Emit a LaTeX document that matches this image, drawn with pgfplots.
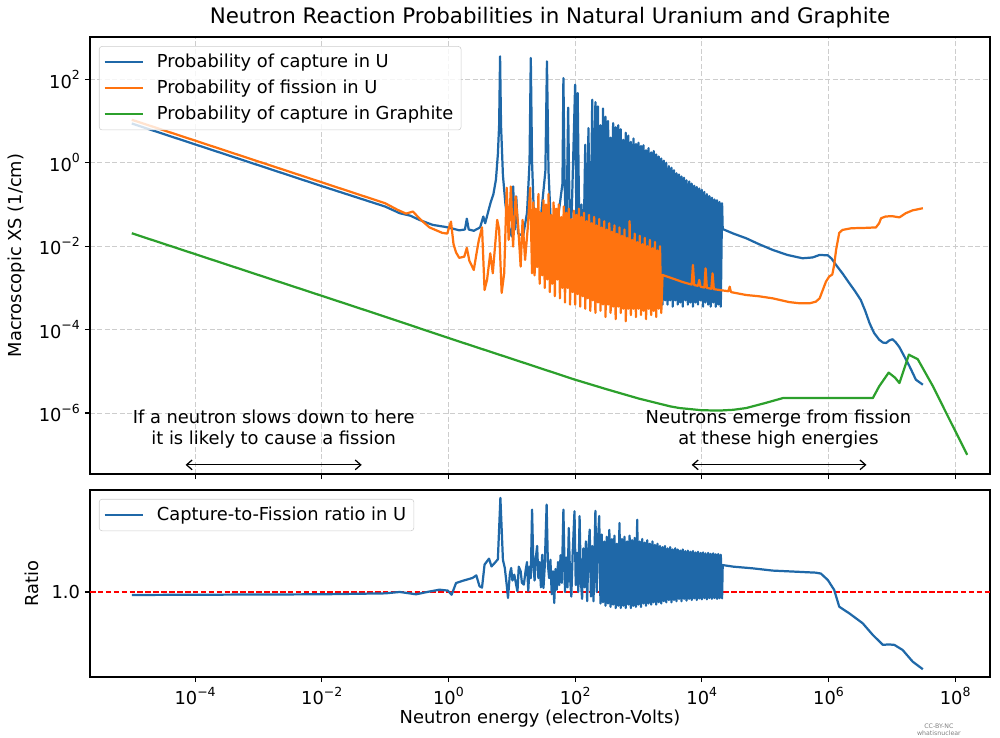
\documentclass[border=0pt]{standalone}
\usepackage{fontspec}
\setmainfont{DejaVu Sans}
\usepackage{pgfplots}
\pgfplotsset{compat=1.18}
\usetikzlibrary{arrows.meta}

\definecolor{mplblue}{RGB}{31,104,168}
\definecolor{mplorange}{RGB}{255,115,15}
\definecolor{mplgreen}{RGB}{44,160,44}
\definecolor{gridgray}{RGB}{205,205,205}
\definecolor{legedge}{RGB}{204,204,204}

\newcommand{\bsz}{\fontsize{12.85}{14.6}\selectfont}
\newcommand{\tsz}{\fontsize{15.4}{18}\selectfont}
\newcommand{\pw}[1]{10\raisebox{0.48em}{\fontsize{9}{9}\selectfont #1}}

\begin{document}
\begin{tikzpicture}
\path[use as bounding box] (0,0) rectangle (720pt,530.64pt);

\node[anchor=base] at (396pt,513.4pt) {\tsz Neutron Reaction Probabilities in Natural Uranium and Graphite};

% upper panel: macroscopic cross sections
\begin{axis}[
  at={(64.8pt,189.36pt)}, anchor=south west,
  scale only axis, width=648pt, height=314.64pt,
  xmode=log, ymode=log,
  xmin=2.19e-6, xmax=3.55e8, ymin=3.47e-8, ymax=1.03e3,
  xtick={1e-4,1e-2,1,1e2,1e4,1e6,1e8}, xticklabels={},
  ytick={1e-6,1e-4,1e-2,1,1e2},
  yticklabels={\pw{−6},\pw{−4},\pw{−2},\pw{0},\pw{2}},
  xminorticks=false, yminorticks=false,
  tick align=outside, tick pos=left,
  major tick length=3.75pt,
  tick style={black, line width=0.86pt},
  axis line style={line width=0.86pt},
  ticklabel style={font=\bsz},
  label style={font=\bsz},
  grid=major, major grid style={gridgray, line width=0.8pt, dash pattern=on 3.6pt off 1.8pt},
  ylabel={Macroscopic XS (1/cm)},
  ylabel style={at={(axis description cs:-0.0811,0.5)}, anchor=center},
  legend cell align=left,
  legend image code/.code={\draw[#1] (0pt,0pt) -- (27.4pt,0pt); \path (34.4pt,0pt);},
  legend style={at={(axis description cs:0.01,0.979)}, anchor=north west,
    font=\bsz, draw=legedge, fill=white, fill opacity=0.8, text opacity=1,
    draw opacity=1, rounded corners=2pt, inner xsep=3pt, inner ysep=2pt,
    row sep=0pt, nodes={inner sep=2.5pt, minimum height=18.7pt}},
]
\addplot[mplblue, line width=1.6pt, line join=round] coordinates {
(1e-5,8.71) (1e-4,2.75) (1e-3,0.871) (1e-2,0.275) (0.1,8.91e-2) (0.17,6.17e-2)
(0.251,5.37e-2) (0.347,4.27e-2) (0.562,3.24e-2) (0.912,2.88e-2) (1.175,2.63e-2)
(1.479,2.40e-2) (1.82,2.51e-2) (1.95,4.57e-2) (2.089,2.51e-2) (2.512,2.34e-2)
(3.162,2.82e-2) (3.548,5.13e-2) (3.802,3.55e-2) (4.365,7.94e-2) (4.677,0.117)
(5.129,0.178) (5.623,0.398) (6.026,1.585) (6.31,7.94) (6.53,355) (6.761,7.94)
(7.244,0.5) (7.943,0.1) (8.913,2.95e-2) (10,1.7e-2) (10.5,0.27) (11.2,2.5e-2)
(11.75,0.155) (12.6,2e-2) (15.1,1.78e-2) (17.4,6.3e-2) (19.05,1.0) (19.95,324)
(20.9,1.0) (22.4,5e-2) (25.1,1.58e-2) (28.8,5e-2) (33.9,0.63) (35.9,269) (38.0,0.63)
(41.7,2.5e-2) (47.9,1.26e-2) (55.0,6.3e-2) (63.1,0.316) (65.3,107) (68.4,0.316)
(72.4,1e-2) (77.6,20.9) (83.2,7.9e-3) (89.1,0.1) (100,74) (104.7,3.2e-2) (109.6,46.8)
(117.5,6.3e-3) (125.9,0.1) (134.9,5e-3) (144.5,2.69) (154.9,4e-3) (162.2,6.76)
(173.8,3.2e-3) (186.2,32.4) (195,2.5e-3) (208.9,28.2)
(218.8,1.585e-3) (229.1,22.39) (239.9,2.512e-3) (251.2,7.943) (263.0,1.259e-3)
(275.4,19.95) (288.4,1.995e-3) (302.0,12.59) (316.2,1e-3) (331.1,10)
(346.7,1.585e-3) (363.1,3.981) (380.2,1e-3) (398.1,8.913) (416.9,1.259e-3)
(436.5,7.079) (457.1,7.943e-4) (478.6,7.943) (501.2,1.259e-3) (524.8,6.31)
(549.5,7.943e-4) (575.4,3.548) (602.6,1e-3) (631.0,5.248) (660.7,6.31e-4)
(691.8,4.467) (724.4,1e-3) (758.6,3.162) (794.3,6.31e-4) (831.8,3.802)
(871.0,7.943e-4) (912.0,2.818) (955.0,5.012e-4) (1000,3.02) (1047,7.943e-4)
(1096,2.512) (1148,5.012e-4) (1202,2.63) (1259,6.31e-4) (1318,1.995)
(1380,5.012e-4) (1445,2.239) (1514,6.31e-4) (1585,1.778) (1660,4.467e-4)
(1738,1.905) (1820,6.31e-4) (1905,1.585) (1995,3.981e-4) (2089,1.413)
(2188,5.012e-4) (2291,1.259) (2399,3.981e-4) (2512,1.122) (2630,5.012e-4)
(2754,1.0) (2884,3.981e-4) (3020,0.832) (3162,5.012e-4) (3311,0.759)
(3467,3.548e-4) (3631,0.661) (3802,5.012e-4) (3981,0.562) (4169,3.981e-4)
(4365,0.525) (4571,4.467e-4) (4786,0.468) (5012,3.548e-4) (5248,0.437)
(5495,5.012e-4) (5754,0.380) (6026,3.981e-4) (6310,0.355) (6607,4.467e-4)
(6918,0.316) (7244,3.548e-4) (7586,0.282) (7943,4.467e-4) (8318,0.263)
(8710,3.981e-4) (9120,0.240) (9550,5.012e-4) (1.0e4,0.224) (1.047e4,3.548e-4)
(1.096e4,0.2) (1.148e4,4.467e-4) (1.202e4,0.178) (1.259e4,3.981e-4) (1.318e4,0.158)
(1.380e4,3.548e-4) (1.445e4,0.145) (1.514e4,4.467e-4) (1.585e4,0.132)
(1.660e4,3.548e-4) (1.738e4,0.126) (1.820e4,3.981e-4) (1.905e4,0.115)
(1.995e4,3.548e-4) (2.089e4,0.107)
(2.138e4,2.57e-2) (3.162e4,2.0e-2) (5.012e4,1.549e-2) (7.943e4,1.122e-2)
(1.318e5,8.13e-3) (2.239e5,6.17e-3) (3.89e5,5.13e-3) (5.623e5,5.37e-3)
(7.244e5,6.17e-3) (9.772e5,6.03e-3) (1.122e6,5.01e-3) (1.318e6,3.55e-3)
(1.66e6,2.24e-3) (2.138e6,1.29e-3) (2.63e6,8.32e-4) (3.236e6,5.13e-4)
(3.802e6,2.82e-4) (4.467e6,1.41e-4) (5.248e6,8.32e-5) (6.31e6,5.75e-5)
(7.244e6,4.9e-5) (8.128e6,4.79e-5) (9.12e6,5.5e-5) (1.023e7,5.89e-5)
(1.148e7,5.01e-5) (1.318e7,3.8e-5) (1.585e7,2.24e-5) (1.905e7,1.32e-5)
(2.399e7,6.31e-6) (3.09e7,4.79e-6)
};
\addlegendentry{Probability of capture in U}
\addplot[mplorange, line width=1.6pt, line join=round] coordinates {
(1e-5,10.7) (1e-4,3.39) (1e-3,1.07) (1e-2,0.339) (0.1,0.107) (0.158,7.41e-2)
(0.214,6.03e-2) (0.275,6.76e-2) (0.355,4.47e-2) (0.501,2.82e-2) (0.794,2.09e-2)
(0.955,2.0e-2) (1.096,3.89e-2) (1.202,1.12e-2) (1.318,7.08e-3) (1.479,5.25e-3)
(1.778,5.62e-3) (1.95,9.12e-3) (2.138,4.47e-3) (2.512,2.69e-3) (2.754,6.31e-3)
(3.02,1.41e-2) (3.388,2.82e-2) (3.715,8.91e-4) (4.074,1.585e-3) (4.571,6.76e-3)
(5.012,2.24e-3) (5.888,4.27e-2) (6.31,2.51e-2) (6.918,7.59e-4) (7.586,2.24e-3)
(8.318,0.251) (8.913,1.41e-2) (9.66,0.269) (10.47,9.77e-3) (11.48,0.155)
(12.59,3.16e-2) (13.8,3.24e-3) (14.79,4.27e-2) (16.22,4.68e-3) (17.78,2.51e-2)
(19.5,0.251) (20.89,2.24e-3)
(21.88,0.112) (22.91,1.995e-3) (23.99,7.94e-2) (25.12,3.162e-3) (26.30,0.178)
(27.54,1.259e-3) (28.84,6.31e-2) (30.20,1.995e-3) (31.62,0.126) (33.11,1e-3)
(34.67,0.1) (36.31,1.585e-3) (38.02,0.178) (39.81,7.94e-4) (41.69,5.62e-2)
(43.65,1.259e-3) (45.71,0.112) (47.86,6.31e-4) (50.12,7.94e-2) (52.48,1.585e-3)
(54.95,0.1) (57.54,5.62e-4) (60.26,5.01e-2) (63.10,1e-3) (66.07,8.91e-2)
(69.18,4.47e-4) (72.44,6.31e-2) (75.86,1e-3) (79.43,7.94e-2) (83.18,3.98e-4)
(87.10,4.47e-2) (91.20,7.94e-4) (95.50,7.08e-2) (100,3.98e-4) (104.7,5.62e-2)
(109.6,7.08e-4) (114.8,7.94e-2) (120.2,3.55e-4) (125.9,5.01e-2) (131.8,6.31e-4)
(138.0,6.31e-2) (144.5,3.16e-4) (151.4,3.98e-2) (158.5,5.62e-4) (166.0,5.62e-2)
(173.8,2.82e-4) (182.0,3.55e-2) (190.5,5.01e-4) (199.5,5.01e-2) (208.9,2.51e-4)
(218.8,3.16e-2) (229.1,4.47e-4) (239.9,4.47e-2) (251.2,2.82e-4) (263.0,2.82e-2)
(275.4,3.98e-4) (288.4,3.98e-2) (302.0,2.0e-4) (316.2,2.51e-2) (331.1,3.98e-4)
(346.7,3.55e-2) (363.1,2.51e-4) (380.2,2.24e-2) (398.1,3.55e-4) (416.9,3.16e-2)
(436.5,1.78e-4) (457.1,2.0e-2) (478.6,3.55e-4) (501.2,2.82e-2) (524.8,2.51e-4)
(549.5,1.78e-2) (575.4,3.16e-4) (602.6,2.51e-2) (631.0,1.585e-4) (660.7,1.585e-2)
(691.8,3.16e-4) (724.4,3.98e-2) (758.6,2.24e-4) (794.3,1.41e-2) (831.8,3.16e-4)
(871.0,2.0e-2) (912.0,2.0e-4) (955.0,1.26e-2) (1000,3.16e-4) (1047,1.78e-2)
(1096,2.24e-4) (1148,1.12e-2) (1202,2.82e-4) (1259,1.585e-2) (1318,1.78e-4)
(1380,1e-2) (1445,3.16e-4) (1514,1.41e-2) (1585,2.24e-4) (1660,8.91e-3)
(1738,2.82e-4) (1820,1.26e-2) (1905,2.0e-4) (1995,7.94e-3) (2089,3.16e-4)
(2188,1e-2) (2291,2.51e-4)
(2399,2.04e-3) (3548,1.66e-3) (5012,1.38e-3) (6918,1.2e-3) (7244,3.55e-3)
(7586,1.17e-3) (8710,1.12e-3) (9120,1.55e-3) (9550,1.07e-3) (1.096e4,1.02e-3)
(1.148e4,2.95e-3) (1.202e4,1e-3) (1.413e4,9.55e-4) (1.479e4,2.24e-3)
(1.549e4,9.33e-4) (1.905e4,8.91e-4) (2.63e4,8.32e-4) (2.754e4,1.07e-3)
(2.884e4,7.94e-4) (5.012e4,6.76e-4) (7.943e4,6.31e-4) (1.318e5,5.62e-4)
(2.399e5,4.57e-4) (3.548e5,4.27e-4) (5.012e5,4.27e-4) (6.31e5,4.68e-4)
(7.244e5,5.62e-4) (8.128e5,8.91e-4) (9.12e5,1.41e-3) (1.023e6,1.86e-3)
(1.148e6,2.09e-3) (1.23e6,3.55e-3) (1.318e6,8.13e-3) (1.479e6,2.09e-2)
(1.66e6,2.45e-2) (2.291e6,2.69e-2) (3.981e6,2.75e-2) (5.623e6,2.82e-2)
(6.31e6,3.55e-2) (6.761e6,4.68e-2) (7.943e6,5.13e-2) (1e7,5.25e-2)
(1.318e7,4.9e-2) (1.66e7,6.17e-2) (2.138e7,7.24e-2) (2.512e7,7.59e-2) (3.09e7,8.13e-2)
};
\addlegendentry{Probability of fission in U}
\addplot[mplgreen, line width=1.6pt, line join=round] coordinates {
(1e-5,2.04e-2) (1e-4,6.46e-3) (1e-3,2.04e-3) (1e-2,6.46e-4) (0.1,2.04e-4)
(1,6.31e-5) (10,2.0e-5) (100,6.31e-6) (316,3.72e-6) (1e3,2.24e-6) (3.162e3,1.45e-6)
(4.467e3,1.32e-6) (1e4,1.17e-6) (1.905e4,1.15e-6) (3.162e4,1.2e-6) (5.012e4,1.32e-6)
(1e5,1.74e-6) (1.905e5,2.29e-6) (3.162e5,2.29e-6) (1e6,2.29e-6) (5.012e6,2.29e-6)
(6.31e6,4.37e-6) (8.913e6,9.33e-6) (1.122e7,7.08e-6) (1.318e7,5.25e-6)
(1.862e7,2.51e-5) (2.57e7,1.95e-5) (4.467e7,4.37e-6) (7.244e7,1e-6) (1.549e8,1e-7)
};
\addlegendentry{Probability of capture in Graphite}

\node[align=center, font=\bsz] at (axis cs:1.74e-3,4.17e-7)
  {If a neutron slows down to here\\it is likely to cause a fission};
\node[align=center, font=\bsz] at (axis cs:1.62e5,4.17e-7)
  {Neutrons emerge from fission\\at these high energies};
\draw[{Straight Barb[length=4pt,width=7pt]}-{Straight Barb[length=4pt,width=7pt]}, line width=0.9pt]
  (axis cs:7.08e-5,5.75e-8) -- (axis cs:4.27e-2,5.75e-8);
\draw[{Straight Barb[length=4pt,width=7pt]}-{Straight Barb[length=4pt,width=7pt]}, line width=0.9pt]
  (axis cs:6.92e3,5.75e-8) -- (axis cs:3.98e6,5.75e-8);
\end{axis}

% lower panel: capture-to-fission ratio
\begin{axis}[
  at={(64.8pt,43.2pt)}, anchor=south west,
  scale only axis, width=648pt, height=134.64pt,
  xmode=log, ymode=log,
  xmin=2.19e-6, xmax=3.55e8, ymin=2.01e-4, ymax=2.72e4,
  xtick={1e-4,1e-2,1,1e2,1e4,1e6,1e8},
  xticklabels={\pw{−4},\pw{−2},\pw{0},\pw{2},\pw{4},\pw{6},\pw{8}},
  ytick={1}, yticklabels={1.0},
  xminorticks=false, yminorticks=false,
  tick align=outside, tick pos=left,
  major tick length=3.75pt,
  tick style={black, line width=0.86pt},
  axis line style={line width=0.86pt},
  ticklabel style={font=\bsz},
  label style={font=\bsz},
  xlabel={Neutron energy (electron-Volts)},
  xlabel style={at={(axis description cs:0.5,-0.2246)}, anchor=center},
  ylabel={Ratio},
  ylabel style={at={(axis description cs:-0.0644,0.5)}, anchor=center},
  legend cell align=left,
  legend image code/.code={\draw[#1] (0pt,0pt) -- (27.4pt,0pt); \path (34.4pt,0pt);},
  legend style={at={(axis description cs:0.01,0.952)}, anchor=north west,
    font=\bsz, draw=legedge, fill=white, fill opacity=0.8, text opacity=1,
    draw opacity=1, rounded corners=2pt, inner xsep=3pt, inner ysep=2pt,
    row sep=0pt, nodes={inner sep=2.5pt, minimum height=18.7pt}},
]
\addplot[red, line width=1.07pt, dash pattern=on 4pt off 1.7pt, forget plot]
  coordinates {(2.19e-6,1) (3.55e8,1)};
\addplot[mplblue, line width=1.6pt, line join=round] coordinates {
(1e-5,0.741) (1e-4,0.759) (1e-2,0.794) (0.1,0.871) (0.17,1.0) (0.309,0.794)
(0.501,1.047) (0.724,1.259) (0.977,1.148) (1.122,0.759) (1.318,2.455) (1.698,3.09)
(2.399,4.074) (2.754,5.248) (3.09,1.778) (3.388,1.549) (3.715,15.5) (4.365,28.2)
(4.786,12.9) (5.37,18.2) (6.026,26.3) (6.607,1.23e4) (7.244,25.1) (7.762,11.0)
(8.318,2.0) (8.71,0.55) (9.333,6.31) (9.772,11.0) (10.23,3.16) (10.96,5.62)
(11.75,2.0) (12.3,1.07) (12.88,12.6) (13.8,7.94) (14.45,2.51) (15.49,2.09)
(16.6,9.33) (17.38,20) (18.2,1.1) (19.05,12.6) (19.95,3.98) (20.89,3.8e3)
(21.88,15.8) (22.91,3.16) (23.99,31.6) (25.12,100) (26.3,3.98) (27.54,20)
(28.84,1.585) (30.2,41.7) (31.62,1.48) (33.11,12.6) (35.48,6310) (37.15,15.8)
(38.9,3.98) (40.74,25.1) (42.66,0.794) (44.67,7.94) (46.77,0.331) (48.98,10)
(51.29,1.26) (53.7,20) (56.23,2.0) (58.88,39.8) (61.66,2.51) (65.3,3800)
(69.18,1.0) (72.44,31.6) (75.86,1.585) (79.43,603) (83.18,3.98) (87.1,0.631)
(91.2,39.8) (97.7,3240) (102.3,2.0) (107.2,50.1) (112.2,1.0) (117.5,2000)
(123,3.16) (128.8,0.501) (134.9,79.4) (141.3,1.585) (147.9,158) (154.9,0.398)
(162.2,63.1) (169.8,513) (177.8,0.631) (186.2,100) (195,0.398) (208.9,3390)
(218.8,1.0) (229.1,158) (239.9,2000)
(251.2,0.316) (263.0,316) (275.4,0.355) (288.4,158) (302.0,0.251) (316.2,251)
(331.1,0.316) (346.7,501) (363.1,0.224) (380.2,200) (398.1,0.282) (416.9,282)
(436.5,0.2) (457.1,126) (478.6,0.251) (501.2,1000) (524.8,0.2) (549.5,200)
(575.4,0.251) (602.6,251) (631.0,0.2) (660.7,158) (691.8,0.282) (724.4,282)
(758.6,0.2) (794.3,178) (831.8,0.251) (871.0,224) (912.0,0.224) (955.0,1380)
(1000,0.282) (1047,158) (1096,0.224) (1148,200) (1202,0.316) (1259,141)
(1318,0.251) (1380,178) (1445,0.316) (1514,126) (1585,0.282) (1660,158)
(1738,0.355) (1820,112) (1905,0.282) (1995,126) (2089,0.355) (2188,100)
(2291,0.316) (2399,89.1) (2512,0.398) (2630,100) (2754,0.355) (2884,79.4)
(3020,0.447) (3162,89.1) (3311,0.355) (3467,70.8) (3631,0.447) (3802,79.4)
(3981,0.398) (4169,70.8) (4365,0.501) (4571,63.1) (4786,0.398) (5012,70.8)
(5248,0.501) (5495,60.3) (5754,0.417) (6026,63.1) (6310,0.501) (6607,56.2)
(6918,0.447) (7244,60.3) (7586,0.525) (7943,52.5) (8318,0.447) (8710,56.2)
(9120,0.525) (9550,50.1) (1e4,0.479) (1.047e4,52.5) (1.096e4,0.537) (1.148e4,47.9)
(1.202e4,0.479) (1.259e4,50.1) (1.318e4,0.537) (1.380e4,45.7) (1.445e4,0.501)
(1.514e4,47.9) (1.585e4,0.550) (1.660e4,43.7) (1.738e4,0.501) (1.820e4,44.7)
(1.905e4,0.537) (1.995e4,41.7) (2.089e4,0.525)
(2.138e4,14.8) (3.162e4,12.6) (6.31e4,10.7) (1.318e5,8.51) (3.162e5,7.59)
(6.31e5,6.92) (7.586e5,6.31) (9.772e5,3.31) (1.23e6,1.23) (1.479e6,0.229)
(2.138e6,0.117) (3.467e6,4.37e-2) (5.012e6,1.35e-2) (7.244e6,5.01e-3)
(8.913e6,5.25e-3) (1.096e7,5.01e-3) (1.479e7,3.02e-3) (2.138e7,9.33e-4) (3.09e7,4.37e-4)
};
\addlegendentry{Capture-to-Fission ratio in U}
\end{axis}

\node[gray, font=\fontsize{4.5}{5}\selectfont, align=center, anchor=north] at (676pt,13pt)
  {CC-BY-NC\\whatisnuclear};
\end{tikzpicture}
\end{document}
